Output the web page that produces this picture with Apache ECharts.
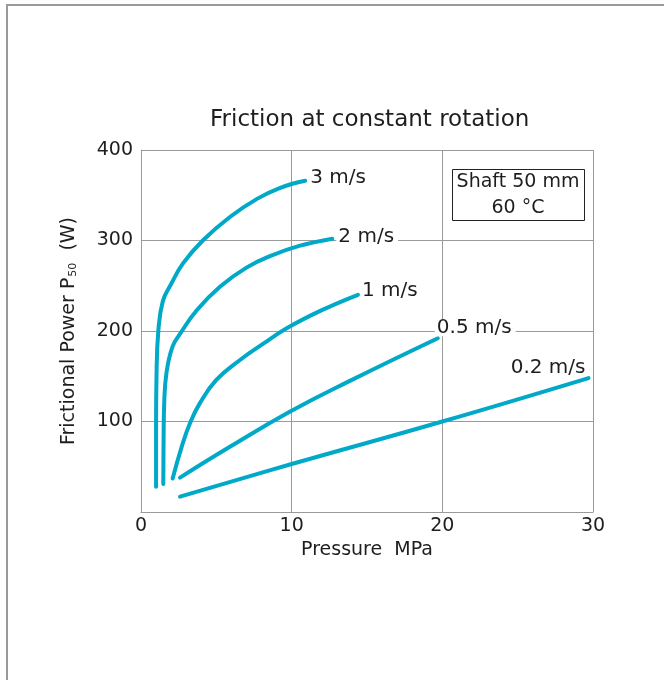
<!DOCTYPE html>
<html>
<head>
<meta charset="utf-8">
<script src="https://cdn.jsdelivr.net/npm/echarts@6/dist/echarts.min.js"></script>
<style>html,body{margin:0;padding:0;background:#fff}#c{width:664px;height:680px}</style>
</head>
<body>
<div id="c"></div>
<script>
// Pressure (MPa), Frictional power (W)
const seriesNames = ['3 m/s', '2 m/s', '1 m/s', '0.5 m/s', '0.2 m/s'];
const speed3 = [[1.0,28],[1.0,90],[1.03,150],[1.15,200],[1.45,233],[2.0,252],[2.8,275],[4.1,300],[5.9,326],[7.7,346],[9.2,358],[10.9,366]];
const speed2 = [[1.48,31],[1.5,80],[1.54,120],[1.7,155],[2.1,183],[2.6,197],[3.7,223],[5.24,249],[7.0,270],[8.6,283],[10.5,294],[12.7,302]];
const speed1 = [[2.1,37],[2.7,72],[3.25,98],[3.9,120],[5.0,146],[6.57,168],[8.12,186],[9.67,203],[12.0,223],[14.4,240]];
const speed05 = [[2.59,38],[5.9,72],[9.9,111],[14.0,146],[19.7,192]];
const speed02 = [[2.59,17],[10.0,53],[20.0,100],[29.7,148]];
const xTickLabels = [0, 10, 20, 30];
const yTickLabels = [100, 200, 300, 400];
const boxLines = ['Shaft 50 mm', '60 °C'];

const FONT = 'DejaVu Sans';
const LINE_COLOR = '#00a9c7';
const TXT = '#1e1e1e';
const GRID = '#9a9a9a';

const allData = [speed3, speed2, speed1, speed05, speed02];
const labelCfg = [
  {distance: 3, offset: [0, -3]},
  {distance: 4, offset: [0, -2]},
  {distance: 2, offset: [0, -4]},
  {distance: 0, offset: [-3, -10]},
  {distance: 0, offset: [1, -10], align: 'right'}
];

const chart = echarts.init(document.getElementById('c'), null, {renderer: 'canvas'});
chart.setOption({
  animation: false,
  backgroundColor: '#fff',
  title: {
    text: 'Friction at constant rotation',
    left: 205, top: 104,
    textStyle: {fontFamily: FONT, fontSize: 23, fontWeight: 'normal', color: TXT}
  },
  grid: {left: 141, right: 71, top: 150, bottom: 168},
  xAxis: {
    type: 'value', min: xTickLabels[0], max: xTickLabels[xTickLabels.length - 1],
    interval: xTickLabels[1] - xTickLabels[0],
    name: 'Pressure  MPa', nameLocation: 'middle', nameGap: 29,
    nameTextStyle: {fontFamily: FONT, fontSize: 19, color: TXT},
    axisLine: {show: true, lineStyle: {color: GRID, width: 1}},
    axisTick: {show: false},
    axisLabel: {fontFamily: FONT, fontSize: 19, color: TXT, margin: 5},
    splitLine: {show: true, lineStyle: {color: GRID, width: 1}}
  },
  yAxis: {
    type: 'value', min: 0, max: yTickLabels[yTickLabels.length - 1],
    interval: yTickLabels[1] - yTickLabels[0],
    name: 'Frictional Power P{sub|50}  (W)', nameLocation: 'middle', nameGap: 62,
    nameTextStyle: {fontFamily: FONT, fontSize: 19, color: TXT,
      rich: {sub: {fontFamily: FONT, fontSize: 11, color: TXT, padding: [9, 0, 0, 1]}}},
    axisLine: {show: true, lineStyle: {color: GRID, width: 1}},
    axisTick: {show: false},
    axisLabel: {fontFamily: FONT, fontSize: 19, color: TXT, margin: 8,
      formatter: v => (yTickLabels.indexOf(v) >= 0 ? String(v) : '')},
    splitLine: {show: true, lineStyle: {color: GRID, width: 1}}
  },
  series: allData.map((d, i) => ({
    name: seriesNames[i],
    type: 'line',
    data: d,
    smooth: 0.45,
    showSymbol: false,
    symbol: 'none',
    lineStyle: {color: LINE_COLOR, width: 4, cap: 'round', join: 'round'},
    endLabel: Object.assign({
      show: true,
      formatter: seriesNames[i],
      fontFamily: FONT, fontSize: 20, color: TXT,
      lineHeight: 16,
      backgroundColor: '#fff',
      padding: [0, 4, 0, 2]
    }, labelCfg[i]),
    z: 3
  })),
  graphic: [
    {type: 'line', shape: {x1: 7, y1: 5, x2: 7, y2: 680}, style: {stroke: '#9a9a9a', lineWidth: 2}},
    {type: 'line', shape: {x1: 6, y1: 5, x2: 664, y2: 5}, style: {stroke: '#9a9a9a', lineWidth: 2}},
    {type: 'rect', shape: {x: 452.5, y: 169.5, width: 132, height: 51}, style: {fill: '#fff', stroke: '#222', lineWidth: 1}, z: 10},
    {type: 'text', x: 518, y: 195, z: 11,
      style: {text: boxLines.join('\n'), fontFamily: FONT, fontSize: 19, fill: TXT,
        align: 'center', verticalAlign: 'middle', lineHeight: 26}}
  ]
});
</script>
</body>
</html>
